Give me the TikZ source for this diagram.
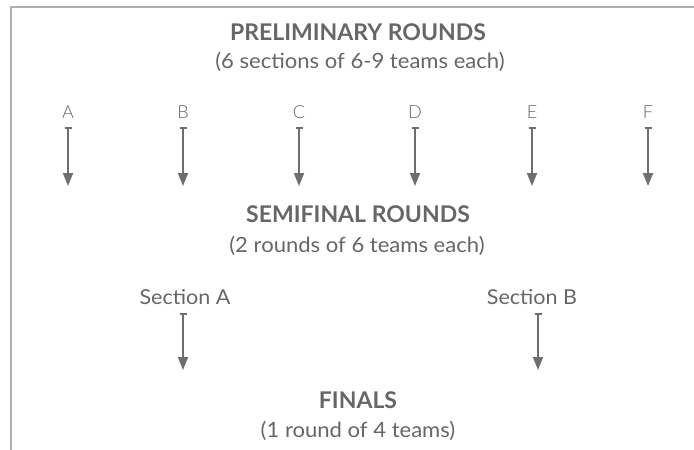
\documentclass[tikz,border=0pt]{standalone}
\usepackage{fontspec}
\setmainfont{Lato}
\newfontfamily\subfont[FakeStretch=1.05]{Lato}
\newfontfamily\lightfont{Lato Light}
\usetikzlibrary{arrows.meta}
\definecolor{txt}{HTML}{666666}
\definecolor{ln}{HTML}{6E6E6E}
\definecolor{frame}{HTML}{B0B0B0}
\begin{document}
\begin{tikzpicture}[x=1pt,y=-1pt,
  title/.style={text=txt,font=\fontsize{23}{26}\selectfont\bfseries,inner sep=0pt,anchor=base},
  sub/.style={text=txt,font=\subfont\fontsize{21}{24}\selectfont,inner sep=0pt,anchor=base},
  letter/.style={text=txt,font=\lightfont\fontsize{18}{21}\selectfont,inner sep=0pt,anchor=base},
  sect/.style={text=txt,font=\subfont\fontsize{20.5}{24}\selectfont,inner sep=0pt,anchor=base},
  flow/.style={draw=ln,line width=1.8pt,{Bar[width=7pt,line width=1.6pt]}-{Triangle[width=10pt,length=13pt]}}]
\useasboundingbox (0,0) rectangle (694,450);
\draw[frame,line width=2pt] (694,7) -- (11,7) -- (11,450);
\node[title] (t1) at (358,40) {PRELIMINARY ROUNDS};
\node[sub] (s1) at (360,68) {(6 sections of 6-9 teams each)};
\foreach \n/\x in {A/68,B/183,C/299,D/415,E/532,F/648}{
  \node[letter] (\n) at (\x,118) {\n};
  \coordinate (\n top) at (\x,127);
  \coordinate (\n end) at (\x,186);
  \draw[flow] (\n top) -- (\n end);
}
\node[title] (t2) at (358,222.5) {SEMIFINAL ROUNDS};
\node[sub] (s2) at (357,252) {(2 rounds of 6 teams each)};
\node[sect] (SA) at (185,304) {Section A};
\node[sect] (SB) at (532,304) {Section B};
\coordinate (SAtop) at (183,313);
\coordinate (SAend) at (183,370);
\coordinate (SBtop) at (538,313);
\coordinate (SBend) at (538,370);
\draw[flow] (SAtop) -- (SAend);
\draw[flow] (SBtop) -- (SBend);
\node[title] (t3) at (358,408) {FINALS};
\node[sub] (s3) at (358,437) {(1 round of 4 teams)};
\end{tikzpicture}
\end{document}
